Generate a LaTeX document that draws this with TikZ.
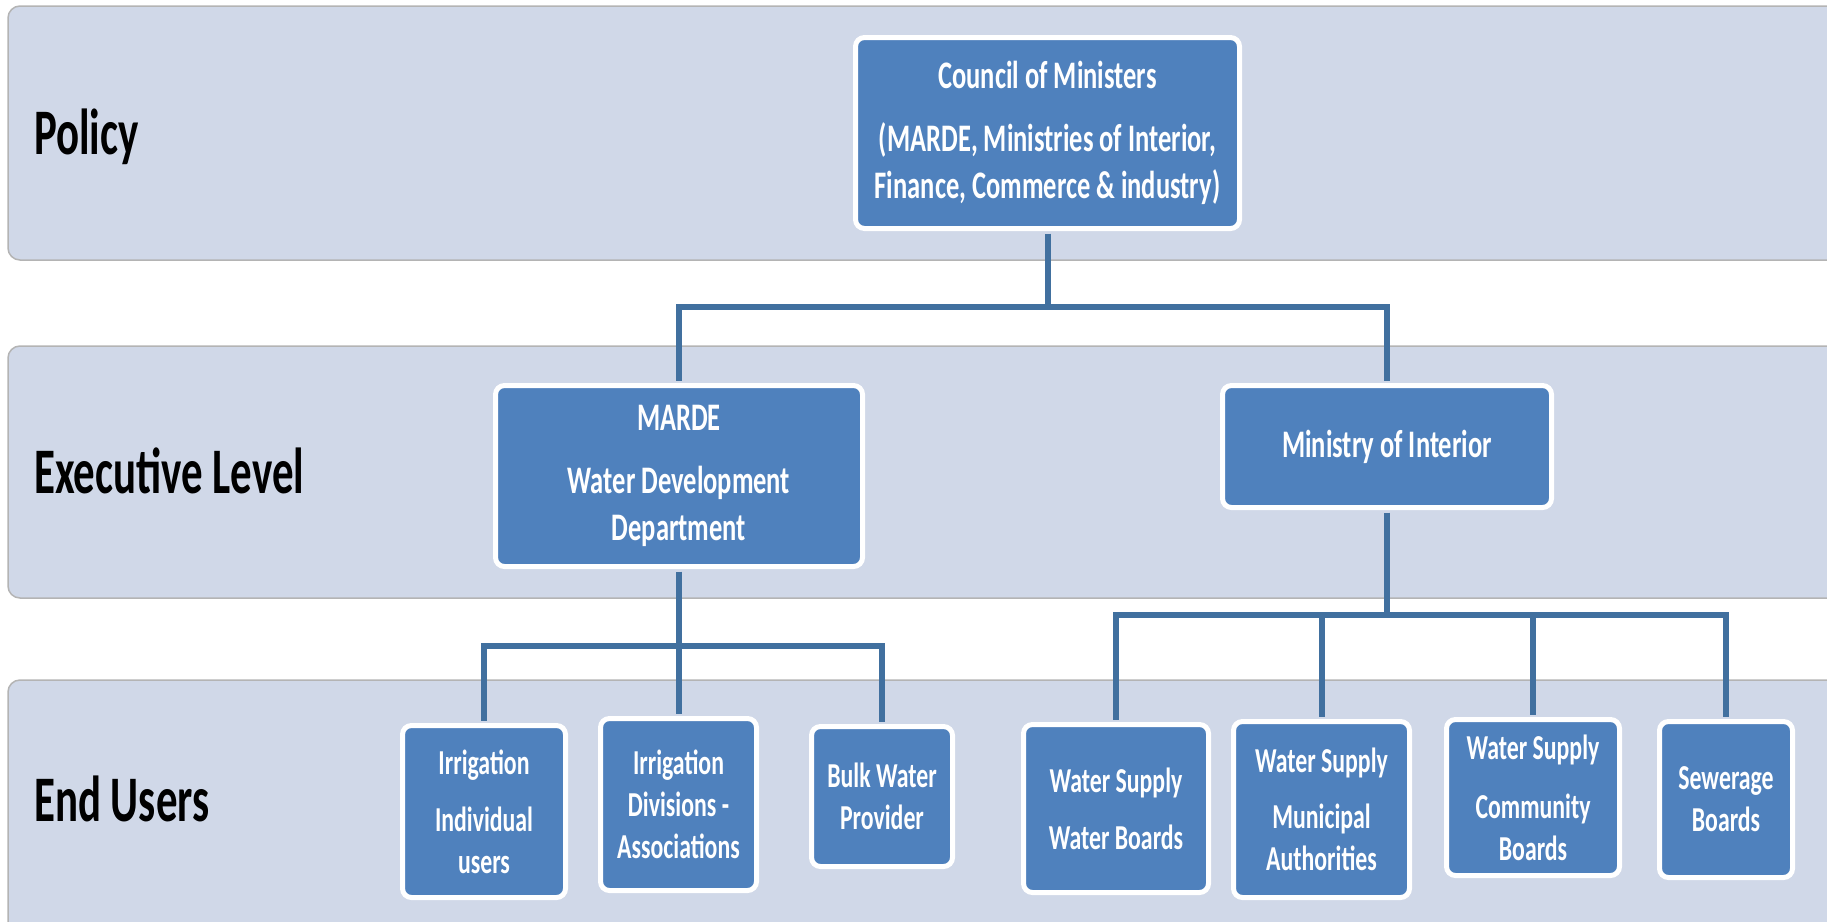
\documentclass[tikz,border=0pt]{standalone}
\usepackage{fontspec}
\newfontfamily\boxfont[FakeStretch=0.68]{Carlito}
\newfontfamily\labfont[FakeStretch=0.66]{Carlito}
\definecolor{bandfill}{HTML}{D0D8E8}
\definecolor{boxblue}{HTML}{4F81BD}
\definecolor{connblue}{HTML}{41709F}
\definecolor{bandline}{HTML}{B4B4B4}
\tikzset{
 band/.style={fill=bandfill, draw=bandline, line width=1.5pt, rounded corners=12pt},
 orgbox/.style={rectangle, rounded corners=9pt, fill=boxblue, draw=white, line width=5pt, text=white, align=center, inner sep=0pt},
 execbox/.style={orgbox, font=\boxfont\bfseries\fontsize{39}{47}\selectfont},
 userbox/.style={orgbox, font=\boxfont\bfseries\fontsize{35}{42}\selectfont},
 conn/.style={draw=connblue, line width=6pt},
 lab/.style={anchor=base west, inner sep=0pt, text=black, font=\labfont\bfseries\fontsize{65}{78}\selectfont}
}
\begin{document}
\begin{tikzpicture}[x=1pt,y=-1pt]
\useasboundingbox (0,0) rectangle (1827,921);
\clip (0,0) rectangle (1827,921);
\fill[white] (0,0) rectangle (1827,921);
% bands
\path[band] (8,6) rectangle (1870,260);
\path[band] (8,346) rectangle (1870,598);
\path[band] (8,680) rectangle (1870,960);
% labels
\node[lab] (lpol) at (34,154) {Policy};
\node[lab] (lexe) at (34,493) {Executive Level};
\node[lab] (lend) at (34,821) {End Users};
% boxes
\node[execbox, minimum width=384pt, minimum height=191pt] (council) at (1047.5,133)
 {Council of Ministers\\[16pt](MARDE, Ministries of Interior,\\Finance, Commerce \& industry)};
\node[execbox, minimum width=367pt, minimum height=181pt] (marde) at (679,476)
 {MARDE\\[16pt]Water Development\\Department};
\node[execbox, minimum width=329pt, minimum height=122pt] (minint) at (1387,446.5)
 {Ministry of Interior};
\node[userbox, minimum width=163pt, minimum height=172pt] (u1) at (484,811.5)
 {Irrigation\\[15pt]Individual\\users};
\node[userbox, minimum width=156pt, minimum height=172pt] (u2) at (678.5,804.5)
 {Irrigation\\Divisions -\\Associations};
\node[userbox, minimum width=141pt, minimum height=140pt] (u3) at (882,796.5)
 {Bulk Water\\Provider};
\node[userbox, minimum width=185pt, minimum height=168pt] (u4) at (1116,808.5)
 {Water Supply\\[15pt]Water Boards};
\node[userbox, minimum width=176pt, minimum height=176pt] (u5) at (1321.5,809.5)
 {Water Supply\\[14pt]Municipal\\Authorities};
\node[userbox, minimum width=173pt, minimum height=156pt] (u6) at (1533,797.5)
 {Water Supply\\[17pt]Community\\Boards};
\node[userbox, minimum width=133pt, minimum height=156pt] (u7) at (1726,799.5)
 {Sewerage\\Boards};
% bus coordinates
\coordinate (bus0) at (1047.5,307);
\coordinate (bus1) at (679,646);
\coordinate (bus2) at (1387,615);
% connectors
\draw[conn, shorten <=2.5pt, shorten >=2.5pt] (council.south) -- (council.south |- bus0) -| (marde.north);
\draw[conn, shorten >=2.5pt] (council.south |- bus0) -| (minint.north);
\draw[conn, shorten <=2.5pt, shorten >=2.5pt] (marde.south) -- (marde.south |- bus1) -| (u1.north);
\draw[conn, shorten >=2.5pt] (marde.south |- bus1) -| (u3.north);
\draw[conn, shorten >=2.5pt] (marde.south |- bus1) -- (marde.south |- u2.north);
\draw[conn, shorten <=2.5pt, shorten >=2.5pt] (minint.south) -- (minint.south |- bus2) -| (u4.north);
\draw[conn, shorten >=2.5pt] (minint.south |- bus2) -| (u7.north);
\draw[conn, shorten >=2.5pt] (u5.north |- bus2) -- (u5.north);
\draw[conn, shorten >=2.5pt] (u6.north |- bus2) -- (u6.north);
\end{tikzpicture}
\end{document}
